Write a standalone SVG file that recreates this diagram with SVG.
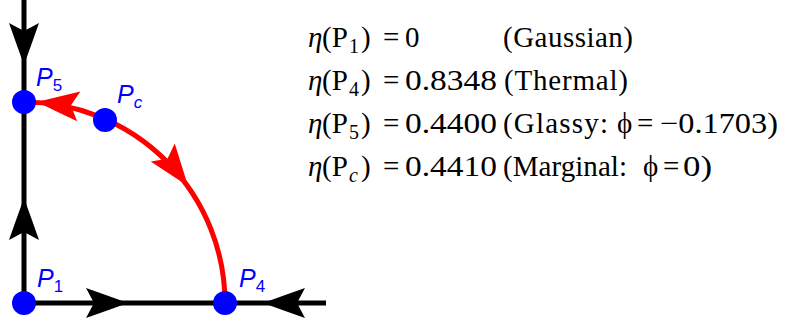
<svg xmlns="http://www.w3.org/2000/svg" xmlns:xlink="http://www.w3.org/1999/xlink" width="789" height="322" viewBox="0 0 789 322">
<style>
.axis{stroke:#000;stroke-width:5;fill:none}
.flow{stroke:#ff0000;stroke-width:5;fill:none}
.hk{fill:#000}
.hr{fill:#ff0000}
.pt{fill:#0000ff}
.lbl{font-family:"Liberation Sans","Arial",sans-serif;font-style:italic;font-size:25px;fill:#0000ff}
.lbl .s{font-size:17px;font-style:normal}
.lbl .si{font-size:17px;font-style:italic}
.eq{font-family:"Liberation Serif","DejaVu Serif",serif;font-size:29px;fill:#000}
.eq .i{font-style:italic}
.eq .sub{font-size:20px}
</style>
<defs>
<path id="ah" d="M0,0 Q-22,-8 -42,-15 L-34,0 L-42,15 Q-22,8 0,0 Z"/>
</defs>
<g id="connectors">
<line class="axis" x1="24" y1="0" x2="24" y2="303"/>
<line class="axis" x1="24" y1="303" x2="326" y2="303"/>
<path class="flow" d="M225,303 A201,201 0 0 0 24,102"/>
<use xlink:href="#ah" class="hk" transform="translate(24,65) rotate(90)"/>
<use xlink:href="#ah" class="hk" transform="translate(24,198) rotate(-90)"/>
<use xlink:href="#ah" class="hk" transform="translate(128,303)"/>
<use xlink:href="#ah" class="hk" transform="translate(263,303) rotate(180)"/>
<use xlink:href="#ah" class="hr" transform="translate(37,102) rotate(186)"/>
<use xlink:href="#ah" class="hr" transform="translate(188,186) rotate(53)"/>
</g>
<g id="P1"><circle class="pt" cx="24" cy="303" r="12"/><text class="lbl" x="37" y="287">P<tspan class="s" dy="5">1</tspan></text></g>
<g id="P4"><circle class="pt" cx="225" cy="303" r="12"/><text class="lbl" x="239" y="287">P<tspan class="s" dy="5">4</tspan></text></g>
<g id="P5"><circle class="pt" cx="24" cy="102" r="12"/><text class="lbl" x="36" y="86">P<tspan class="s" dy="5">5</tspan></text></g>
<g id="Pc"><circle class="pt" cx="105" cy="120" r="12"/><text class="lbl" x="117" y="103">P<tspan class="si" dy="5">c</tspan></text></g>
<g id="legend">
<text class="eq" y="47"><tspan x="308" class="i">η</tspan><tspan x="322">(P</tspan><tspan x="349" dy="6" class="sub">1</tspan><tspan x="361" dy="-6">)</tspan></text>
<text class="eq" x="383" y="47">=</text>
<text class="eq" x="405" y="47">0</text>
<text class="eq" x="503" y="47" textLength="130" lengthAdjust="spacing">(Gaussian)</text>

<text class="eq" y="90"><tspan x="308" class="i">η</tspan><tspan x="322">(P</tspan><tspan x="349" dy="6" class="sub">4</tspan><tspan x="361" dy="-6">)</tspan></text>
<text class="eq" x="383" y="90">=</text>
<text class="eq" x="405" y="90" textLength="92" lengthAdjust="spacingAndGlyphs">0.8348</text>
<text class="eq" x="504" y="90" textLength="124" lengthAdjust="spacing">(Thermal)</text>

<text class="eq" y="133"><tspan x="308" class="i">η</tspan><tspan x="322">(P</tspan><tspan x="349" dy="6" class="sub">5</tspan><tspan x="361" dy="-6">)</tspan></text>
<text class="eq" x="383" y="133">=</text>
<text class="eq" x="405" y="133" textLength="92" lengthAdjust="spacingAndGlyphs">0.4400</text>
<text class="eq" x="503" y="133" textLength="105" lengthAdjust="spacing">(Glassy:</text>
<text class="eq i" x="617" y="133">ϕ</text>
<text class="eq" x="637" y="133">=</text>
<text class="eq" x="660" y="133" textLength="118" lengthAdjust="spacingAndGlyphs">−0.1703)</text>

<text class="eq" y="176"><tspan x="308" class="i">η</tspan><tspan x="322">(P</tspan><tspan x="349" dy="6" class="sub i">c</tspan><tspan x="361" dy="-6">)</tspan></text>
<text class="eq" x="383" y="176">=</text>
<text class="eq" x="405" y="176" textLength="92" lengthAdjust="spacingAndGlyphs">0.4410</text>
<text class="eq" x="503" y="176" textLength="124" lengthAdjust="spacing">(Marginal:</text>
<text class="eq i" x="643" y="176">ϕ</text>
<text class="eq" x="663" y="176">=</text>
<text class="eq" x="683" y="176" textLength="29" lengthAdjust="spacingAndGlyphs">0)</text>
</g>
</svg>
